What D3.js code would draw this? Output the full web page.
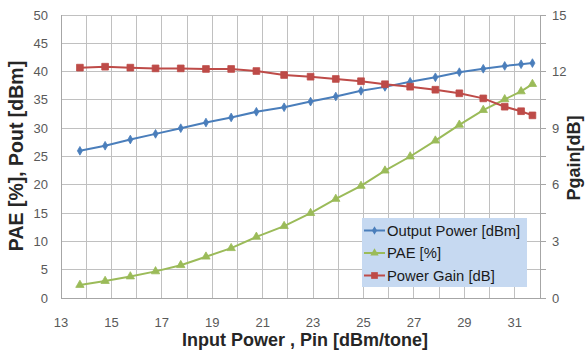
<!DOCTYPE html>
<html><head><meta charset="utf-8">
<script src="https://cdn.jsdelivr.net/npm/d3@7"></script>
<style>body{margin:0;background:#fff}svg{display:block}</style>
</head><body>
<svg id="c" width="585" height="354"></svg>
<script>
const pin = [13.75,14.75,15.75,16.75,17.75,18.75,19.75,20.75,21.85,22.9,23.9,24.9,25.85,26.85,27.85,28.8,29.75,30.6,31.25,31.7];
const outputPower = [26.0,26.9,28.0,29.0,30.0,31.0,31.9,32.9,33.7,34.7,35.6,36.6,37.3,38.2,39.0,39.9,40.5,41.0,41.3,41.5];
const pae = [2.3,3.0,3.8,4.7,5.8,7.3,8.8,10.8,12.7,15.0,17.5,19.8,22.5,25.0,27.8,30.6,33.2,35.1,36.5,37.8];
const powerGain = [12.21,12.26,12.21,12.17,12.17,12.14,12.14,12.03,11.82,11.73,11.61,11.49,11.33,11.20,11.04,10.85,10.58,10.14,9.90,9.68];
const xTicks = [13,15,17,19,21,23,25,27,29,31];
const leftTicks = [0,5,10,15,20,25,30,35,40,45,50];
const rightTicks = [0,3,6,9,12,15];
const seriesNames = ["Output Power [dBm]","PAE [%]","Power Gain [dB]"];

const svg = d3.select("#c");
const L=61, R=540, T=15, B=298;
const x = d3.scaleLinear().domain([13,32]).range([L,R]);
const y = d3.scaleLinear().domain([0,50]).range([B,T]);
const y2 = d3.scaleLinear().domain([0,15]).range([B,T]);
const font = "'Liberation Sans', Arial, sans-serif";
const gridC = "#c0c0c0";

// gridlines
const g = svg.append("g");
g.selectAll(".vg").data(d3.range(14,33)).enter().append("line")
  .attr("x1",d=>x(d)).attr("x2",d=>x(d)).attr("y1",T).attr("y2",B)
  .attr("stroke",gridC).attr("stroke-width",1).attr("shape-rendering","crispEdges");
g.selectAll(".hg").data(leftTicks).enter().append("line")
  .attr("x1",L).attr("x2",R).attr("y1",d=>y(d)).attr("y2",d=>y(d))
  .attr("stroke",gridC).attr("stroke-width",1).attr("shape-rendering","crispEdges");
// axis lines
svg.append("line").attr("x1",L).attr("x2",L).attr("y1",T).attr("y2",B).attr("stroke","#a6a6a6").attr("shape-rendering","crispEdges");
svg.append("line").attr("x1",R).attr("x2",R).attr("y1",T).attr("y2",B).attr("stroke","#a6a6a6").attr("shape-rendering","crispEdges");
svg.append("line").attr("x1",L).attr("x2",R).attr("y1",B).attr("y2",B).attr("stroke","#a6a6a6").attr("shape-rendering","crispEdges");
// right axis small ticks
svg.selectAll(".rt").data(d3.range(0,15.01,1.5)).enter().append("line")
  .attr("x1",R).attr("x2",R+6).attr("y1",d=>y2(d)).attr("y2",d=>y2(d))
  .attr("stroke","#a6a6a6").attr("shape-rendering","crispEdges");

// tick labels
const tc="#595959";
svg.selectAll(".xl").data(xTicks).enter().append("text")
  .attr("x",d=>x(d)).attr("y",327).attr("text-anchor","middle")
  .attr("font-family",font).attr("font-size",13).attr("fill",tc).text(d=>d);
svg.selectAll(".yl").data(leftTicks).enter().append("text")
  .attr("x",48).attr("y",d=>y(d)+4.5).attr("text-anchor","end")
  .attr("font-family",font).attr("font-size",13).attr("fill",tc).text(d=>d);
svg.selectAll(".y2l").data(rightTicks).enter().append("text")
  .attr("x",552).attr("y",d=>y2(d)+4.5).attr("text-anchor","start")
  .attr("font-family",font).attr("font-size",13).attr("fill",tc).text(d=>d);

// titles
svg.append("text").attr("transform","translate(23,156) rotate(-90)").attr("text-anchor","middle")
  .attr("font-family",font).attr("font-size",19.5).attr("font-weight","bold").attr("fill","#262626").text("PAE [%], Pout [dBm]");
svg.append("text").attr("transform","translate(580,158) rotate(-90)").attr("text-anchor","middle")
  .attr("font-family",font).attr("font-size",18).attr("font-weight","bold").attr("fill","#262626").text("Pgain[dB]");
svg.append("text").attr("x",305).attr("y",346).attr("text-anchor","middle")
  .attr("font-family",font).attr("font-size",18).attr("font-weight","bold").attr("fill","#262626").text("Input Power , Pin [dBm/tone]");

// series
const colors = ["#4a7ebb","#9bbb59","#be4b48"];
const sets = [
  {vals: outputPower, sc: y, sym: d3.symbolDiamond, size: 22},
  {vals: pae, sc: y, sym: d3.symbolTriangle, size: 30},
  {vals: powerGain, sc: y2, sym: d3.symbolSquare, size: 45}
];
sets.forEach((s,i)=>{
  const pts = pin.map((p,j)=>[x(p), s.sc(s.vals[j])]);
  svg.append("path").attr("d", d3.line()(pts)).attr("fill","none")
    .attr("stroke",colors[i]).attr("stroke-width",2);
  svg.selectAll(null).data(pts).enter().append("path")
    .attr("transform",d=>`translate(${d[0]},${d[1]})`)
    .attr("d", d3.symbol().type(s.sym).size(s.size)())
    .attr("fill",colors[i]).attr("stroke",colors[i]).attr("stroke-width",0.8);
});

// legend
const lg = svg.append("g");
lg.append("rect").attr("x",362).attr("y",218).attr("width",165).attr("height",69)
  .attr("fill","#c6d9f1");
seriesNames.forEach((n,i)=>{
  const cy = 230.5 + i*22.5;
  lg.append("line").attr("x1",364).attr("x2",385).attr("y1",cy).attr("y2",cy)
    .attr("stroke",colors[i]).attr("stroke-width",2);
  lg.append("path").attr("transform",`translate(374.5,${cy})`)
    .attr("d", d3.symbol().type(sets[i].sym).size(sets[i].size)()).attr("fill",colors[i]);
  lg.append("text").attr("x",387).attr("y",cy+5).attr("font-family",font)
    .attr("font-size",14.8).attr("fill","#1a1a1a").text(n);
});
</script>
</body></html>
